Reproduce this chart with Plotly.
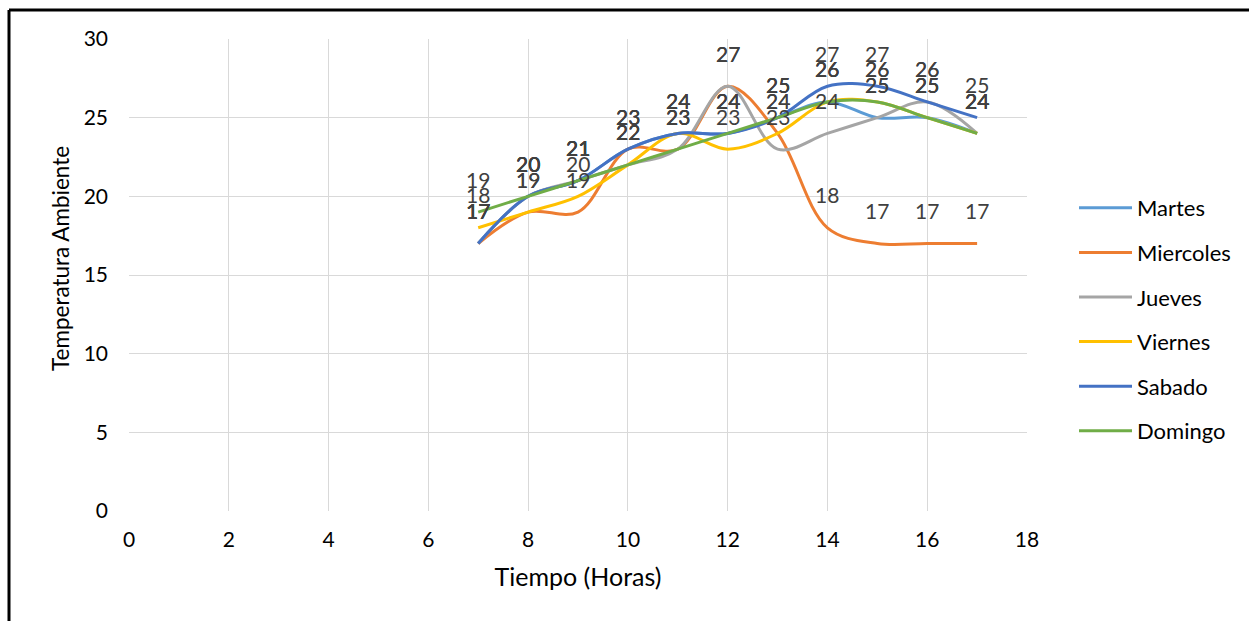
import plotly.graph_objects as go

hours = [7, 8, 9, 10, 11, 12, 13, 14, 15, 16, 17]
martes = [17, 20, 21, 23, 24, 24, 25, 26, 25, 25, 24]
miercoles = [17, 19, 19, 23, 23, 27, 24, 18, 17, 17, 17]
jueves = [17, 20, 21, 22, 23, 27, 23, 24, 25, 26, 24]
viernes = [18, 19, 20, 22, 24, 23, 24, 26, 26, 25, 24]
sabado = [17, 20, 21, 23, 24, 24, 25, 27, 27, 26, 25]
domingo = [19, 20, 21, 22, 23, 24, 25, 26, 26, 25, 24]

series_names = ["Martes", "Miercoles", "Jueves", "Viernes", "Sabado", "Domingo"]
series_values = [martes, miercoles, jueves, viernes, sabado, domingo]
colors = ["#5B9BD5", "#ED7D31", "#A5A5A5", "#FFC000", "#4472C4", "#70AD47"]

x_title = "Tiempo (Horas)"
y_title = "Temperatura Ambiente"

W, H = 1249, 621
L, R, T, B = 129, 1027, 39, 511
FONT = "Lato"

fig = go.Figure()
for name, vals, col in zip(series_names, series_values, colors):
    fig.add_trace(go.Scatter(
        x=hours, y=vals, name=name, mode="lines",
        line=dict(color=col, width=3, shape="spline", smoothing=1.0),
        legendgroup=name,
    ))

def px_x(p):
    return (p - L) / (R - L)

def px_y(p):
    return (B - p) / (B - T)

annotations = []
for vals in series_values:
    for h, v in zip(hours, vals):
        annotations.append(dict(
            x=h, y=v, xref="x", yref="y", text=str(v), showarrow=False,
            yshift=33, font=dict(family=FONT, size=21, color="#404040"),
        ))

annotations.append(dict(
    x=px_x(60), y=px_y(259), xref="paper", yref="paper", text=y_title,
    textangle=-90, showarrow=False, xanchor="center", yanchor="middle",
    font=dict(family=FONT, size=22.5, color="black"),
))

shapes = [
    dict(type="line", xref="paper", yref="paper", x0=px_x(9), x1=px_x(1252),
         y0=px_y(10), y1=px_y(10), line=dict(color="black", width=3)),
    dict(type="line", xref="paper", yref="paper", x0=px_x(9), x1=px_x(9),
         y0=px_y(10), y1=px_y(640), line=dict(color="black", width=3)),
]

fig.update_layout(
    width=W, height=H,
    margin=dict(l=L, r=W - R, t=T, b=H - B),
    paper_bgcolor="white", plot_bgcolor="white",
    font=dict(family=FONT, size=21, color="black"),
    xaxis=dict(range=[0, 18], dtick=2, showgrid=True, gridcolor="#D9D9D9", gridwidth=1,
               zeroline=False, showline=False, ticklabelstandoff=14,
               title=dict(text=x_title, font=dict(size=25), standoff=18)),
    yaxis=dict(range=[0, 30], dtick=5, showgrid=True, gridcolor="#D9D9D9", gridwidth=1,
               zeroline=False, showline=False, ticklabelstandoff=20),
    legend=dict(x=px_x(1074), xanchor="left", y=px_y(187), yanchor="top",
                itemwidth=53, tracegroupgap=13, traceorder="grouped",
                font=dict(size=22, color="black"), bgcolor="rgba(0,0,0,0)"),
    annotations=annotations,
    shapes=shapes,
    showlegend=True,
)

fig.write_html("out.html")
